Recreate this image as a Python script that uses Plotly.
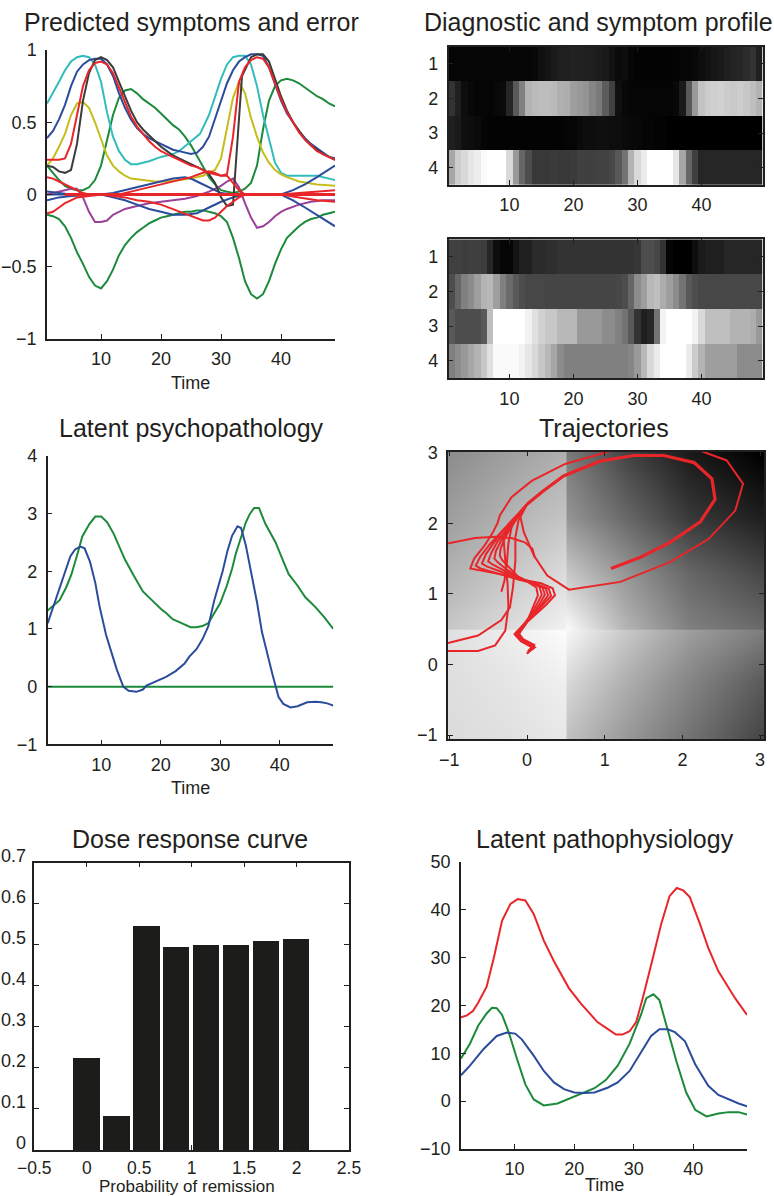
import plotly.graph_objects as go

W, H = 774, 1196
FONT = "Liberation Sans, Arial, Helvetica, sans-serif"
INK = "#231f20"

BLUE = "#2b4b9b"
GREEN = "#1b8a3a"
RED = "#e8262a"
CYAN = "#33bcbc"
MAGENTA = "#9b3f98"
YELLOW = "#c5bd1b"
DARK = "#3b3b3b"
BAR = "#1c1c1a"

# ---------------- Panel: Predicted symptoms and error ----------------
cyan_t = [1,2,3,4,5,6,7,8,9,10,11,12,13,14,15,16,18,20,22,23,25,26.5,28,29,30,31,32,33,34,35,36,37,38,39,40,41,44,46,48,49]
cyan_v = [0.63,0.7,0.78,0.86,0.92,0.95,0.96,0.95,0.9,0.78,0.57,0.4,0.3,0.24,0.21,0.21,0.23,0.26,0.28,0.3,0.37,0.42,0.55,0.68,0.8,0.9,0.95,0.96,0.96,0.9,0.75,0.55,0.38,0.22,0.15,0.13,0.13,0.13,0.11,0.1]

blue_top_t = list(range(1, 50))
blue_top_v = [0.39,0.44,0.52,0.62,0.75,0.85,0.9,0.93,0.94,0.94,0.9,0.82,0.7,0.6,0.52,0.46,0.42,0.39,0.37,0.35,0.33,0.31,0.3,0.29,0.28,0.29,0.33,0.4,0.52,0.65,0.77,0.86,0.92,0.95,0.97,0.97,0.96,0.88,0.76,0.65,0.56,0.5,0.44,0.39,0.35,0.32,0.29,0.26,0.25]

dark_t = [1,2,3,4,5,6,7,8,9,10,11,12,13,14,15,16,17,18,19,20,21,22,23,24,25,26,27,28,29,30,31,32,33.5,35,36,37,38,39,40,41,42,43,44,45,46,47,48,49]
dark_v = [0.2,0.19,0.16,0.15,0.17,0.35,0.65,0.84,0.93,0.95,0.93,0.88,0.78,0.68,0.58,0.5,0.45,0.41,0.37,0.33,0.3,0.27,0.25,0.23,0.21,0.19,0.17,0.14,0.08,-0.02,-0.08,-0.07,0.82,0.95,0.97,0.97,0.92,0.8,0.68,0.58,0.5,0.44,0.38,0.34,0.31,0.28,0.26,0.24]

red_top_t = list(range(1, 50))
red_top_v = [0.24,0.24,0.24,0.25,0.35,0.55,0.75,0.86,0.91,0.92,0.9,0.84,0.74,0.63,0.54,0.47,0.42,0.37,0.33,0.3,0.28,0.26,0.24,0.22,0.2,0.19,0.17,0.15,0.14,0.13,0.14,0.4,0.78,0.88,0.93,0.95,0.94,0.88,0.77,0.66,0.57,0.5,0.43,0.38,0.34,0.3,0.28,0.26,0.24]

yellow_t = [1,2,3,4,5,6,7,8,9,10,11,12,13,14,15,17,19,21,23,25,27,29,30,31,32,33,34,35,36,37,38,39,40,41,43,46,49]
yellow_v = [0.2,0.25,0.33,0.42,0.55,0.63,0.64,0.6,0.5,0.38,0.27,0.2,0.16,0.13,0.11,0.1,0.09,0.09,0.1,0.11,0.13,0.17,0.25,0.45,0.67,0.78,0.7,0.53,0.4,0.29,0.22,0.17,0.14,0.12,0.09,0.07,0.06]

green_up_t = list(range(1, 50))
green_up_v = [0.2,0.15,0.1,0.06,0.04,0.03,0.03,0.05,0.1,0.2,0.38,0.55,0.67,0.72,0.73,0.7,0.66,0.63,0.6,0.56,0.52,0.48,0.45,0.4,0.34,0.27,0.19,0.12,0.07,0.03,0.02,0.01,0.02,0.04,0.08,0.2,0.45,0.65,0.75,0.79,0.8,0.79,0.77,0.74,0.71,0.68,0.66,0.63,0.61]

green_lo_t = list(range(1, 50))
green_lo_v = [-0.14,-0.15,-0.17,-0.22,-0.3,-0.4,-0.48,-0.57,-0.63,-0.65,-0.6,-0.52,-0.42,-0.35,-0.3,-0.26,-0.23,-0.2,-0.18,-0.16,-0.15,-0.14,-0.13,-0.12,-0.12,-0.11,-0.11,-0.12,-0.13,-0.15,-0.19,-0.3,-0.44,-0.6,-0.69,-0.72,-0.69,-0.6,-0.48,-0.38,-0.3,-0.26,-0.22,-0.19,-0.17,-0.16,-0.14,-0.13,-0.12]

purple_t = [1,2,3,4,5,6,7,8,9,10,11,12,13,14,16,18,20,22,24,26,28,30,31,32,33,34,35,36,37,38,39,40,41,43,45,47,49]
purple_v = [0.0,0.01,0.02,0.03,0.04,0.04,-0.02,-0.12,-0.19,-0.19,-0.18,-0.14,-0.12,-0.1,-0.08,-0.06,-0.05,-0.04,-0.03,-0.01,0.02,0.06,0.09,0.11,0.05,-0.06,-0.16,-0.23,-0.22,-0.19,-0.15,-0.12,-0.1,-0.07,-0.05,-0.04,-0.04]

blue_a_t = [1,3,5,7,10,12,14,16,18,20,22,24,25,26,28,30,32,40,42,44,46,48,49]
blue_a_v = [0.02,0.01,0.0,0.0,0.0,0.01,0.03,0.05,0.07,0.09,0.11,0.12,0.11,0.09,0.05,0.01,0.0,0.0,0.03,0.07,0.12,0.17,0.2]

blue_b_t = [1,3,5,10,12,14,16,18,20,22,24,26,28,30,32,34,40,42,44,46,48,49]
blue_b_v = [-0.04,-0.02,-0.01,0.0,-0.02,-0.04,-0.07,-0.1,-0.12,-0.14,-0.14,-0.13,-0.09,-0.05,-0.02,0.0,0.0,-0.04,-0.09,-0.14,-0.19,-0.22]

red_mid_t = [1,2,3,4,5,6,7,8,13,15,17,19,21,23,25,27,28,29,30,31,32,33,34,40,43,46,49]
red_mid_v = [0.12,0.11,0.09,0.07,0.05,0.03,0.01,0.0,0.0,0.02,0.04,0.06,0.08,0.1,0.12,0.15,0.16,0.15,0.13,0.13,0.08,0.03,0.0,0.0,0.01,0.02,0.03]

red_lo_t = [1,2,3,4,5,6,8,10,12,14,16,18,20,22,24,26,27,28,29,30,31,32,33,34,40,43,46,49]
red_lo_v = [-0.13,-0.12,-0.09,-0.06,-0.04,-0.02,-0.01,0.0,-0.01,-0.02,-0.04,-0.05,-0.07,-0.1,-0.13,-0.16,-0.18,-0.18,-0.16,-0.12,-0.08,-0.05,-0.02,0.0,0.0,-0.02,-0.04,-0.05]

zero_t = [1, 49]
zero_v = [0, 0]
zero_red_t = [4, 49]

# ---------------- Diagnostic and symptom profile (heatmaps) ----------------
cols = list(range(1, 50))
rows = [1, 2, 3, 4]
hm1_r1 = [0.02,0.02,0.02,0.02,0.02,0.02,0.02,0.02,0.02,0.02,0.02,0.02,0.02,0.03,0.06,0.08,0.1,0.12,0.12,0.13,0.13,0.12,0.12,0.11,0.1,0.07,0.04,0.05,0.02,0.01,0.01,0.01,0.01,0.01,0.01,0.02,0.02,0.02,0.03,0.05,0.07,0.09,0.1,0.12,0.14,0.15,0.17,0.2,0.12]
hm1_r2 = [0.2,0.12,0.05,0.03,0.02,0.02,0.02,0.03,0.04,0.15,0.35,0.5,0.7,0.73,0.74,0.74,0.73,0.69,0.68,0.62,0.6,0.58,0.52,0.48,0.36,0.25,0.06,0.03,0.02,0.02,0.02,0.02,0.02,0.02,0.02,0.03,0.1,0.35,0.6,0.76,0.8,0.81,0.82,0.8,0.79,0.8,0.78,0.75,0.7]
hm1_r3 = [0.12,0.1,0.06,0.05,0.04,0.02,0.01,0.01,0.01,0.01,0.01,0.01,0.01,0.01,0.01,0.01,0.01,0.01,0.02,0.02,0.04,0.05,0.05,0.06,0.06,0.05,0.05,0.04,0.03,0.03,0.02,0.02,0.01,0.01,0.0,0.0,0.0,0.0,0.0,0.0,0.0,0.0,0.0,0.0,0.0,0.0,0.0,0.0,0.0]
hm1_r4 = [0.65,0.8,0.85,0.9,0.93,0.98,1.0,1.0,1.0,0.85,0.6,0.4,0.3,0.22,0.22,0.22,0.23,0.22,0.22,0.23,0.25,0.25,0.25,0.26,0.26,0.28,0.35,0.45,0.7,0.85,0.92,1.0,1.0,1.0,1.0,0.9,0.65,0.4,0.25,0.15,0.15,0.15,0.15,0.15,0.15,0.15,0.15,0.15,0.15]

hm2_r1 = [0.25,0.25,0.24,0.25,0.25,0.24,0.15,0.05,0.02,0.02,0.08,0.12,0.12,0.17,0.17,0.18,0.18,0.2,0.2,0.2,0.2,0.2,0.2,0.2,0.2,0.2,0.2,0.2,0.2,0.21,0.3,0.3,0.28,0.2,0.02,0.0,0.0,0.0,0.05,0.1,0.12,0.12,0.12,0.15,0.15,0.15,0.15,0.15,0.15]
hm2_r2 = [0.3,0.4,0.5,0.55,0.62,0.7,0.72,0.62,0.5,0.42,0.35,0.3,0.28,0.28,0.28,0.27,0.27,0.27,0.27,0.27,0.27,0.27,0.27,0.27,0.27,0.27,0.28,0.3,0.4,0.55,0.62,0.72,0.75,0.68,0.62,0.55,0.45,0.35,0.3,0.28,0.28,0.28,0.28,0.28,0.28,0.28,0.28,0.28,0.28]
hm2_r3 = [0.35,0.3,0.3,0.3,0.3,0.35,0.75,1.0,1.0,1.0,1.0,1.0,0.95,0.88,0.82,0.78,0.78,0.72,0.72,0.72,0.6,0.6,0.6,0.6,0.55,0.55,0.5,0.45,0.35,0.2,0.12,0.15,0.45,0.95,1.0,1.0,1.0,1.0,0.95,0.85,0.75,0.75,0.75,0.75,0.7,0.7,0.7,0.68,0.6]
hm2_r4 = [0.5,0.55,0.6,0.65,0.7,0.78,0.88,0.98,0.98,0.98,0.98,0.95,0.9,0.85,0.78,0.72,0.65,0.55,0.5,0.5,0.5,0.5,0.5,0.5,0.5,0.5,0.5,0.5,0.52,0.6,0.72,0.85,0.92,1.0,1.0,1.0,1.0,0.92,0.8,0.7,0.62,0.62,0.62,0.62,0.62,0.55,0.55,0.55,0.55]

# ---------------- Latent psychopathology ----------------
psy_green_t = [1,3,4.1,5,6,6.8,8,9,10,11,12.1,13,14,15.5,17,18.5,20,21,22,23.5,25,26,27,28,28.7,30,31.1,32,32.6,33.5,34.3,35,35.7,36.5,37.6,38.5,39.3,40.5,41.5,43,44.3,46,47.5,49]
psy_green_v = [1.32,1.5,1.72,1.95,2.3,2.6,2.82,2.95,2.95,2.85,2.65,2.45,2.2,1.92,1.65,1.5,1.35,1.27,1.17,1.1,1.03,1.03,1.05,1.1,1.22,1.45,1.75,2.05,2.3,2.6,2.85,3.0,3.1,3.1,2.82,2.65,2.5,2.2,1.95,1.75,1.55,1.38,1.2,1.0]
psy_blue_t = [1,2,3,4,4.8,5.6,6.5,7.2,8.1,9,9.7,10.8,11.7,12.6,13.7,14.6,15.9,17,17.6,19,20.9,22.5,24,24.8,26,27,28,29,30.4,31.2,32,32.9,33.5,34.3,34.8,35.5,36.2,37,37.9,38.8,39.8,40.6,41.8,43,44.6,46,47,48,49]
psy_blue_v = [1.1,1.4,1.7,2.0,2.26,2.38,2.43,2.4,2.17,1.8,1.4,0.9,0.58,0.3,0.0,-0.07,-0.09,-0.05,0.02,0.08,0.17,0.27,0.4,0.52,0.65,0.82,1.05,1.5,2.0,2.35,2.62,2.78,2.75,2.45,2.2,1.85,1.45,0.95,0.55,0.2,-0.18,-0.3,-0.36,-0.34,-0.27,-0.26,-0.27,-0.29,-0.33]
psy_zero_t = [1, 49]
psy_zero_v = [0, 0]

# ---------------- Trajectories ----------------
bg_x = [-1.0, -0.25, 0.49, 0.51, 1.3, 2.1, 3.0]
bg_y = [-1.0, -0.25, 0.49, 0.51, 1.3, 2.1, 3.0]
bg_z = [
    [0.86, 0.88, 0.91, 0.76, 0.60, 0.45, 0.28],
    [0.87, 0.90, 0.94, 0.85, 0.68, 0.52, 0.36],
    [0.88, 0.93, 0.99, 0.97, 0.78, 0.62, 0.50],
    [0.78, 0.86, 0.95, 0.98, 0.70, 0.50, 0.42],
    [0.70, 0.78, 0.86, 0.78, 0.58, 0.40, 0.28],
    [0.62, 0.70, 0.77, 0.58, 0.40, 0.22, 0.12],
    [0.55, 0.62, 0.69, 0.48, 0.26, 0.10, 0.00],
]

traj_bundle_x = [
    [0.0,0.1,-0.05,-0.15,-0.05,0.1,0.25,0.36,0.33,0.18,-0.05,-0.35,-0.6,-0.73,-0.68,-0.55,-0.45,-0.38,-0.35,-0.2,0.06,0.49,1.0,1.5,2.0,2.27,2.57,2.78,2.68,2.34,1.84,1.2,0.54,0.26,0.09,-0.04,-0.09,0.0],
    [0.02,0.09,-0.06,-0.13,-0.03,0.1,0.22,0.31,0.28,0.12,-0.1,-0.4,-0.6,-0.66,-0.6,-0.48,-0.35,-0.22,-0.1,0.0],
    [0.03,0.08,-0.07,-0.14,-0.02,0.1,0.2,0.27,0.24,0.1,-0.1,-0.35,-0.52,-0.58,-0.53,-0.43,-0.32,-0.2,-0.09,0.0],
    [0.0,0.07,-0.08,-0.16,-0.04,0.08,0.17,0.23,0.2,0.07,-0.12,-0.32,-0.45,-0.5,-0.46,-0.38,-0.28,-0.18,-0.08,0.0],
    [0.04,0.09,-0.05,-0.12,-0.02,0.07,0.14,0.19,0.16,0.04,-0.12,-0.28,-0.38,-0.42,-0.4,-0.33,-0.25,-0.16,-0.07,0.0],
    [0.01,0.08,-0.06,-0.1,-0.01,0.05,0.1,0.14,0.12,0.01,-0.12,-0.24,-0.32,-0.35,-0.34,-0.29,-0.22,-0.14,-0.06,0.0],
]
traj_bundle_y = [
    [0.16,0.24,0.32,0.42,0.55,0.7,0.85,0.98,1.08,1.15,1.2,1.28,1.33,1.36,1.5,1.68,1.85,2.0,2.11,2.37,2.6,2.84,3.0,3.15,3.12,3.01,2.89,2.56,2.18,1.78,1.45,1.17,1.06,1.26,1.54,1.87,2.11,2.27],
    [0.18,0.26,0.34,0.44,0.57,0.72,0.86,0.97,1.07,1.14,1.2,1.3,1.36,1.4,1.53,1.7,1.86,2.01,2.15,2.27],
    [0.2,0.27,0.35,0.45,0.58,0.73,0.87,0.98,1.08,1.15,1.21,1.32,1.39,1.43,1.56,1.72,1.88,2.02,2.15,2.27],
    [0.15,0.24,0.33,0.43,0.57,0.72,0.87,0.99,1.09,1.16,1.23,1.34,1.42,1.46,1.58,1.74,1.89,2.03,2.16,2.27],
    [0.22,0.28,0.36,0.46,0.6,0.74,0.88,0.99,1.1,1.17,1.24,1.36,1.45,1.5,1.61,1.76,1.9,2.04,2.16,2.27],
    [0.19,0.25,0.33,0.44,0.58,0.73,0.87,0.98,1.09,1.17,1.25,1.38,1.48,1.54,1.64,1.78,1.92,2.05,2.17,2.27],
]
traj_left_a_x = [-1.1,-0.99,-0.63,-0.33,-0.22,-0.18,-0.15,-0.15,-0.11,0.0]
traj_left_a_y = [0.29,0.31,0.41,0.63,0.81,1.1,1.47,1.8,2.04,2.27]
traj_left_b_x = [-1.1,-0.99,-0.63,-0.41,-0.28,-0.24,-0.25,-0.28,-0.3,-0.24,-0.13,0.0]
traj_left_b_y = [0.19,0.19,0.19,0.27,0.48,0.81,1.14,1.47,1.76,1.99,2.11,2.27]
traj_left_c_x = [-1.1,-0.99,-0.67,-0.41,-0.2,-0.03,0.07,0.1]
traj_left_c_y = [1.71,1.72,1.79,1.81,1.79,1.73,1.64,1.52]
traj_mid_d_x = [-0.33,-0.29,-0.26,-0.24,-0.2,-0.13,0.0]
traj_mid_d_y = [1.03,1.19,1.43,1.71,1.94,2.11,2.27]
traj_main_x = [0.0,0.2,0.47,0.94,1.37,1.76,2.15,2.38,2.42,2.23,1.84,1.46,1.08]
traj_main_y = [2.27,2.45,2.67,2.88,2.96,2.96,2.86,2.63,2.34,2.02,1.73,1.52,1.36]

# ---------------- Dose response curve ----------------
dose_x = [0.0, 0.2857, 0.5714, 0.8571, 1.1429, 1.4286, 1.7143, 2.0]
dose_y = [0.225, 0.083, 0.546, 0.495, 0.5, 0.5, 0.509, 0.514]

# ---------------- Latent pathophysiology ----------------
phys_red_t = [1,2,3,3.9,5.3,6.5,7.9,9.3,10.5,11.8,13.2,14.9,16.6,19.1,21.1,23.9,25.6,27,28.1,29.3,30.4,31.5,33.2,34.6,36,37.2,38.3,39.4,41.1,42.5,44.2,45.3,47,49]
phys_red_v = [17.5,17.9,18.8,20.6,23.9,29.9,37.7,41.2,42.2,41.9,39.1,33.5,29.2,23.6,20.4,16.5,15.1,13.9,13.9,14.6,16.5,21.5,29.9,37.0,42.8,44.5,44.0,42.6,37.0,32.0,27.1,25.0,21.5,18.0]
phys_green_t = [1,2.5,3.9,5.3,6.2,7.0,7.9,9.0,10.4,11.8,13.2,14.9,17.2,19.1,21.1,23.4,25.3,27.3,29.3,31.2,32.1,33.3,34.3,35.5,37.2,38.8,40.3,42.2,44.2,45.9,47.6,49]
phys_green_v = [8.9,12.0,15.8,18.3,19.5,19.4,18.0,14.4,8.8,3.5,0.35,-0.9,-0.5,0.5,1.4,2.7,4.4,7.4,12.0,18.0,21.5,22.3,21.1,15.8,8.1,1.8,-1.8,-3.2,-2.6,-2.3,-2.3,-2.8]
phys_blue_t = [1,2.5,4.8,7,8.7,10.1,11.2,13.2,14.9,16.6,18.3,20,21.7,23.4,25.6,27.3,29.3,31.2,32.9,34.3,35.7,36.9,38.6,40.3,42.5,44.2,45.9,47.6,49]
phys_blue_v = [5.4,7.4,10.9,13.6,14.3,14.1,12.9,9.5,6.3,3.9,2.5,1.8,1.7,1.8,2.8,3.9,6.3,10.2,13.6,15.0,15.0,14.4,12.5,7.7,3.2,1.3,0.35,-0.5,-1.1]

# ====================================================================
def xp(x):
    return x / W

def yp(y):
    return 1 - y / H

fig = go.Figure()

def line(ax, x, y, color, width=2.0):
    fig.add_trace(go.Scatter(x=x, y=y, mode="lines", xaxis="x" + ax, yaxis="y" + ax,
                             line=dict(color=color, width=width), hoverinfo="skip",
                             showlegend=False))

# Panel 1 (axis 1)
for t, v, c, w in [
    (zero_t, zero_v, BLUE, 2.2),
    (green_up_t, green_up_v, GREEN, 2),
    (green_lo_t, green_lo_v, GREEN, 2),
    (cyan_t, cyan_v, CYAN, 2),
    (yellow_t, yellow_v, YELLOW, 2),
    (purple_t, purple_v, MAGENTA, 2),
    (blue_a_t, blue_a_v, BLUE, 2),
    (blue_b_t, blue_b_v, BLUE, 2),
    (blue_top_t, blue_top_v, BLUE, 2),
    (dark_t, dark_v, DARK, 2),
    (red_mid_t, red_mid_v, RED, 2),
    (red_lo_t, red_lo_v, RED, 2),
    (red_top_t, red_top_v, RED, 2),
    (zero_red_t, zero_v, RED, 3.2),
]:
    line("", t, v, c, w)

gray = [[0, "#000000"], [1, "#ffffff"]]
fig.add_trace(go.Heatmap(x=cols, y=rows, z=[hm1_r1, hm1_r2, hm1_r3, hm1_r4], xaxis="x2", yaxis="y2",
                         colorscale=gray, zmin=0, zmax=1, showscale=False, hoverinfo="skip"))
fig.add_trace(go.Heatmap(x=cols, y=rows, z=[hm2_r1, hm2_r2, hm2_r3, hm2_r4], xaxis="x3", yaxis="y3",
                         colorscale=gray, zmin=0, zmax=1, showscale=False, hoverinfo="skip"))

# Panel latent psychopathology (axis 4)
line("4", psy_zero_t, psy_zero_v, GREEN, 2)
line("4", psy_green_t, psy_green_v, GREEN, 2)
line("4", psy_blue_t, psy_blue_v, BLUE, 2)

# Trajectories (axis 5)
fig.add_trace(go.Heatmap(x=bg_x, y=bg_y, z=bg_z, xaxis="x5", yaxis="y5", zsmooth="best",
                         colorscale=gray, zmin=0, zmax=1, showscale=False, hoverinfo="skip"))
for tx, ty in zip(traj_bundle_x, traj_bundle_y):
    line("5", tx, ty, RED, 2.0)
line("5", traj_left_a_x, traj_left_a_y, RED, 2.0)
line("5", traj_left_b_x, traj_left_b_y, RED, 2.0)
line("5", traj_left_c_x, traj_left_c_y, RED, 2.0)
line("5", traj_mid_d_x, traj_mid_d_y, RED, 2.0)
line("5", traj_main_x, traj_main_y, RED, 3.2)

# Dose response (axis 6)
fig.add_trace(go.Bar(x=dose_x, y=dose_y, width=0.25, xaxis="x6", yaxis="y6",
                     marker=dict(color=BAR, line=dict(width=0)), hoverinfo="skip", showlegend=False))

# Latent pathophysiology (axis 7)
line("7", phys_red_t, phys_red_v, RED, 2)
line("7", phys_green_t, phys_green_v, GREEN, 2)
line("7", phys_blue_t, phys_blue_v, BLUE, 2)


def ax(domain, rng, tickvals, ticktext, anchor, mirror=False, standoff=3, size=18, shift=0):
    return dict(domain=domain, range=rng, tickvals=tickvals, ticktext=ticktext, anchor=anchor,
                showline=True, linecolor=INK, linewidth=1.5, mirror=mirror,
                ticks="inside", ticklen=5, tickwidth=1.2, tickcolor=INK,
                showgrid=False, zeroline=False, fixedrange=True, automargin=False,
                ticklabelstandoff=standoff, ticklabelshift=shift,
                tickfont=dict(family=FONT, size=size, color=INK))

M = "\u2212"
t_time = [10, 20, 30, 40]
t_time_txt = ["10", "20", "30", "40"]

layout = dict(
    template="none",
    width=W, height=H, margin=dict(l=0, r=0, t=0, b=0, pad=0), autosize=False,
    paper_bgcolor="white", plot_bgcolor="white", showlegend=False,
    bargap=0,
    xaxis=ax([xp(47), xp(335)], [1, 49], t_time, t_time_txt, "y"),
    yaxis=ax([yp(339), yp(50)], [-1, 1], [-1, -0.5, 0, 0.5, 1], [M + "1", M + "0.5", "0", "0.5", "1"], "x", standoff=5),
    xaxis2=ax([xp(448.5), xp(762.5)], [0.5, 49.5], t_time, t_time_txt, "y2", "ticks"),
    yaxis2=ax([yp(185), yp(46.7)], [4.5, 0.5], [1, 2, 3, 4], ["1", "2", "3", "4"], "x2", "ticks", standoff=5),
    xaxis3=ax([xp(448.5), xp(762.5)], [0.5, 49.5], t_time, t_time_txt, "y3", "ticks"),
    yaxis3=ax([yp(378.3), yp(239.3)], [4.5, 0.5], [1, 2, 3, 4], ["1", "2", "3", "4"], "x3", "ticks", standoff=5),
    xaxis4=ax([xp(47.7), xp(333.3)], [1, 49], t_time, t_time_txt, "y4"),
    yaxis4=ax([yp(744.3), yp(456)], [-1, 4], [-1, 0, 1, 2, 3, 4], [M + "1", "0", "1", "2", "3", "4"], "x4", standoff=5),
    xaxis5=ax([xp(448), xp(764)], [-1.017, 3.05], [-1, 0, 1, 2, 3], [M + "1", "0", "1", "2", "3"], "y5", "ticks"),
    yaxis5=ax([yp(739.3), yp(451.7)], [-1.06, 3.014], [-1, 0, 1, 2, 3], [M + "1", "0", "1", "2", "3"], "x5", "ticks", standoff=5),
    xaxis6=ax([xp(34.3), xp(349)], [-0.5, 2.5], [-0.5, 0, 0.5, 1, 1.5, 2, 2.5],
              [M + "0.5", "0", "0.5", "1", "1.5", "2", "2.5"], "y6", "ticks", standoff=1, size=17.5),
    yaxis6=ax([yp(1150), yp(862.7)], [0, 0.7], [0, 0.1, 0.2, 0.3, 0.4, 0.5, 0.6, 0.7],
              ["0", "0.1", "0.2", "0.3", "0.4", "0.5", "0.6", "0.7"], "x6", "ticks", standoff=3, shift=-7),
    xaxis7=ax([xp(461), xp(747)], [1, 49], t_time, t_time_txt, "y7"),
    yaxis7=ax([yp(1149), yp(861.7)], [-10, 50], [-10, 0, 10, 20, 30, 40, 50],
              [M + "10", "0", "10", "20", "30", "40", "50"], "x7", standoff=5),
)

def note(text, x, y, size, pad=1):
    return dict(text=text, x=xp(x), y=yp(y), xref="paper", yref="paper", showarrow=False,
                xanchor="center", yanchor="middle", borderpad=pad,
                font=dict(family=FONT, size=size, color=INK))

layout["annotations"] = [
    note("Predicted symptoms and error", 191.5, 22, 25),
    note("Diagnostic and symptom profile", 598, 22, 25),
    note("Time", 190, 383, 18),
    note("Latent psychopathology", 191, 428, 25),
    note("Trajectories", 604, 428, 25),
    note("Time", 190, 788, 18),
    note("Dose response curve", 190, 839, 25),
    note("Latent pathophysiology", 605, 839, 25),
    note("Probability of remission", 187, 1186, 17, pad=0),
    note("Time", 604, 1185, 18),
]

fig.update_layout(**layout)
fig.write_html("out.html")
